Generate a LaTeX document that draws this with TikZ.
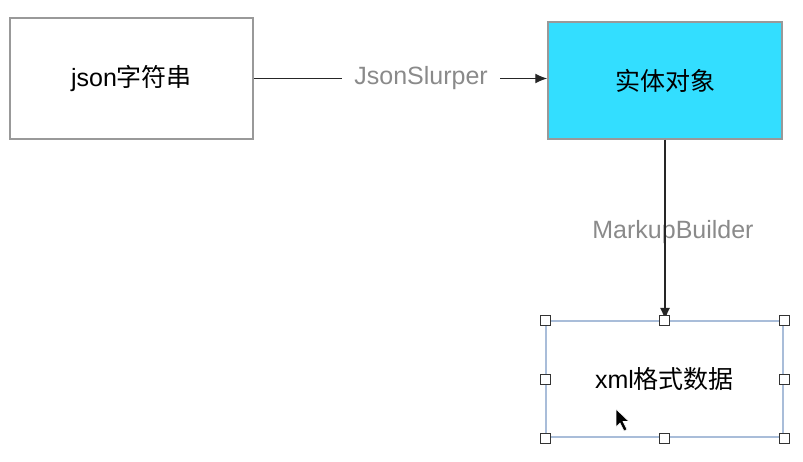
\documentclass[tikz,border=0pt]{standalone}
\usepackage{fontspec}
\setmainfont{Liberation Sans}
\newfontfamily\cjk{Noto Sans CJK SC}
\usetikzlibrary{arrows.meta}
\definecolor{boxcyan}{HTML}{33DEFF}
\definecolor{labelgray}{HTML}{8A8A8A}
\definecolor{selblue}{HTML}{A9BDD9}
\tikzset{
  databox/.style={draw=black!40, line width=1.5pt, inner sep=0pt, font=\fontsize{25}{30}\selectfont},
  convlabel/.style={text=labelgray, font=\fontsize{25}{30}\selectfont},
  handle/.style={draw=black!80, fill=white, line width=1pt, minimum size=10pt, inner sep=0pt},
  flow/.style={-{Latex[length=12pt,width=10pt]}, line width=1.4pt, draw=black!85}
}
\begin{document}
\begin{tikzpicture}[x=1pt,y=-1pt]
  \useasboundingbox (0,0) rectangle (803,462);
  % the three boxes
  \node[databox, minimum width=243pt, minimum height=121pt] (json) at (131.5,78.5) {json{\cjk 字符串}};
  \node[databox, fill=boxcyan, minimum width=234pt, minimum height=117pt] (entity) at (665,80.5) {\cjk 实体对象};
  \node[databox, draw=selblue, line width=2pt, minimum width=237pt, minimum height=116pt] (xmldata) at (664.5,379) {xml{\cjk 格式数据}};
  % conversions
  \draw[flow] (json.east) -- node[convlabel, pos=0.57, fill=white, inner xsep=12pt] (slurper) {JsonSlurper} (json.east -| entity.west);
  \node[convlabel] (builder) at (673,232) {MarkupBuilder};
  \draw[flow] (entity.south) -- (entity.south |- xmldata.north);
  % selection handles
  \foreach \a in {north west,north,north east,west,east,south west,south,south east}
    \node[handle] at (xmldata.\a) {};
  % mouse pointer
  \filldraw[fill=black, draw=white, line width=0.6pt] (616,409) -- ++(0,18) -- ++(4,-4) -- ++(4,8) -- ++(3,-1.5) -- ++(-4,-8) -- ++(6,0) -- cycle;
\end{tikzpicture}
\end{document}
